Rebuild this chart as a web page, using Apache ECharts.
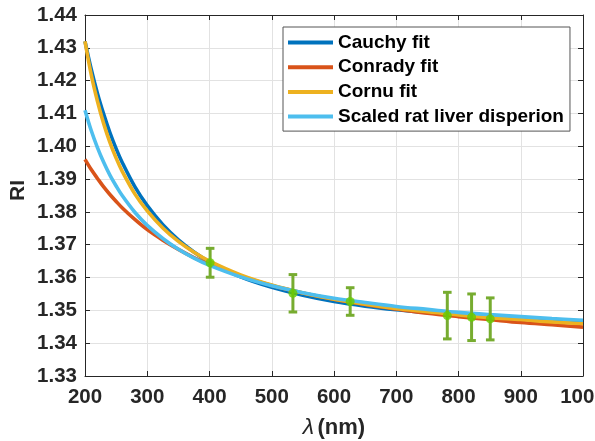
<!DOCTYPE html>
<html>
<head>
<meta charset="utf-8">
<script src="https://cdn.jsdelivr.net/npm/echarts@6/dist/echarts.min.js"></script>
<style>
  html, body { margin: 0; padding: 0; background: #ffffff; }
  #chart { width: 595px; height: 441px; }
</style>
</head>
<body>
<div id="chart"></div>
<script>
// Wavelength samples (nm) shared by the fitted dispersion curves
const wavelengths = [200, 210, 220, 230, 240, 250, 260, 280, 300, 325, 350, 375, 400,
                     450, 500, 550, 600, 650, 700, 750, 800, 850, 900, 950, 1000];

// Refractive index of each fitted curve at the wavelengths above
const cauchyFit = [1.4320, 1.4235, 1.4161, 1.4098, 1.4042, 1.3993, 1.3950, 1.3877, 1.3819,
                   1.3761, 1.3715, 1.3678, 1.3648, 1.3602, 1.3570, 1.3546, 1.3527, 1.3513,
                   1.3502, 1.3493, 1.3485, 1.3479, 1.3474, 1.3470, 1.3466];
const conradyFit = [1.3960, 1.3929, 1.3902, 1.3876, 1.3853, 1.3832, 1.3812, 1.3777, 1.3746,
                    1.3714, 1.3686, 1.3661, 1.3640, 1.3605, 1.3576, 1.3553, 1.3534, 1.3518,
                    1.3504, 1.3491, 1.3481, 1.3472, 1.3463, 1.3456, 1.3449];
const cornuFit = [1.4320, 1.4218, 1.4137, 1.4069, 1.4012, 1.3964, 1.3923, 1.3855, 1.3803,
                  1.3751, 1.3710, 1.3677, 1.3650, 1.3608, 1.3577, 1.3553, 1.3534, 1.3519,
                  1.3506, 1.3496, 1.3486, 1.3478, 1.3472, 1.3465, 1.3460];
const ratLiverScaled = [1.4110, 1.4048, 1.3996, 1.3951, 1.3912, 1.3879, 1.3849, 1.3799, 1.3759,
                        1.3719, 1.3686, 1.3659, 1.3637, 1.3602, 1.3575, 1.3554, 1.3537, 1.3524,
                        1.3512, 1.3503, 1.3494, 1.3487, 1.3481, 1.3475, 1.3470];

// Measured points with their uncertainty
const measWavelength = [401, 534, 626, 782, 821, 851];
const measRI = [1.3645, 1.3552, 1.3527, 1.3484, 1.3479, 1.3474];
const measErr = [0.0044, 0.0057, 0.0042, 0.0071, 0.0071, 0.0064];

// Axis ranges and tick spacing
const xMin = 200, xMax = 1000, xStep = 100;
const yMin = 1.33, yMax = 1.44, yStep = 0.01;

const seriesNames = ['Cauchy fit', 'Conrady fit', 'Cornu fit', 'Scaled rat liver disperion'];
const seriesColors = ['#0072BD', '#D95319', '#EDB120', '#4DBEEE'];
const seriesValues = [cauchyFit, conradyFit, cornuFit, ratLiverScaled];

const FONT = '"Liberation Sans", Arial, Helvetica, sans-serif';
const INK = '#262626';

const chart = echarts.init(document.getElementById('chart'), null, { renderer: 'canvas' });

const lineSeries = seriesNames.map((name, i) => ({
  name: name,
  type: 'line',
  data: wavelengths.map((w, k) => [w, seriesValues[i][k]]),
  smooth: 0.35,
  showSymbol: false,
  symbol: 'none',
  lineStyle: { color: seriesColors[i], width: 3.6 },
  itemStyle: { color: seriesColors[i] },
  z: 2 + i,
  animation: false
}));

const errorSeries = {
  type: 'custom',
  data: measWavelength.map((w, k) => [w, measRI[k], measErr[k]]),
  renderItem: function (params, api) {
    const x = api.value(0), y = api.value(1), e = api.value(2);
    const top = api.coord([x, y + e]);
    const bot = api.coord([x, y - e]);
    const half = 4.3;
    const style = { stroke: '#77AC30', lineWidth: 3 };
    return {
      type: 'group',
      children: [
        { type: 'line', shape: { x1: top[0], y1: top[1], x2: bot[0], y2: bot[1] }, style: style },
        { type: 'line', shape: { x1: top[0] - half, y1: top[1], x2: top[0] + half, y2: top[1] }, style: style },
        { type: 'line', shape: { x1: bot[0] - half, y1: bot[1], x2: bot[0] + half, y2: bot[1] }, style: style }
      ]
    };
  },
  z: 10,
  animation: false
};

const markerSeries = {
  type: 'scatter',
  data: measWavelength.map((w, k) => [w, measRI[k]]),
  symbol: 'circle',
  symbolSize: 9,
  itemStyle: { color: '#66CC00' },
  z: 11,
  animation: false
};

const axisLineStyle = { lineStyle: { color: INK, width: 1 } };
const tickStyle = { show: true, inside: true, length: 5, lineStyle: { color: INK, width: 1 } };
const gridLineStyle = { show: true, lineStyle: { color: '#e2e2e2', width: 1 } };

chart.setOption({
  animation: false,
  backgroundColor: '#ffffff',
  grid: { left: 85, right: 12, top: 15, bottom: 65, containLabel: false, outerBoundsMode: 'none' },
  xAxis: [
    {
      type: 'value', min: xMin, max: xMax, interval: xStep, position: 'bottom',
      axisLine: axisLineStyle, axisTick: tickStyle, splitLine: gridLineStyle,
      axisLabel: {
        color: INK, fontFamily: FONT, fontWeight: 'bold', fontSize: 20.5, margin: 11,
        showMaxLabel: true, hideOverlap: false,
        formatter: v => String(v)
      }
    },
    {
      type: 'value', min: xMin, max: xMax, interval: xStep, position: 'top',
      axisLine: axisLineStyle, axisTick: tickStyle, splitLine: { show: false },
      axisLabel: { show: false }
    }
  ],
  yAxis: [
    {
      type: 'value', min: yMin, max: yMax, interval: yStep, position: 'left',
      axisLine: axisLineStyle, axisTick: tickStyle, splitLine: gridLineStyle,
      axisLabel: {
        color: INK, fontFamily: FONT, fontWeight: 'bold', fontSize: 20.5, margin: 8,
        formatter: v => v.toFixed(2)
      }
    },
    {
      type: 'value', min: yMin, max: yMax, interval: yStep, position: 'right',
      axisLine: axisLineStyle, axisTick: tickStyle, splitLine: { show: false },
      axisLabel: { show: false }
    }
  ],
  legend: {
    data: seriesNames,
    orient: 'vertical',
    left: 283,
    top: 27,
    icon: 'rect',
    itemWidth: 45,
    itemHeight: 4,
    itemGap: 5.7,
    padding: [6, 6, 5, 5],
    backgroundColor: '#ffffff',
    borderColor: '#555555',
    borderWidth: 1,
    borderRadius: 0,
    selectedMode: false,
    textStyle: { color: '#000000', fontFamily: FONT, fontWeight: 'bold', fontSize: 19, lineHeight: 19 }
  },
  graphic: [
    {
      type: 'text', left: 8, top: 180, rotation: Math.PI / 2,
      style: { text: 'RI', fontFamily: FONT, fontWeight: 'bold', fontSize: 21, fill: INK }
    },
    {
      type: 'text', x: 334, y: 428,
      style: {
        text: '{g|λ} {b|(nm)}',
        align: 'center', verticalAlign: 'middle',
        rich: {
          g: { fontFamily: FONT, fontStyle: 'italic', fontSize: 23, fill: INK, color: INK },
          b: { fontFamily: FONT, fontWeight: 'bold', fontSize: 22, fill: INK, color: INK }
        }
      }
    }
  ],
  series: lineSeries.concat([errorSeries, markerSeries])
});
</script>
</body>
</html>
